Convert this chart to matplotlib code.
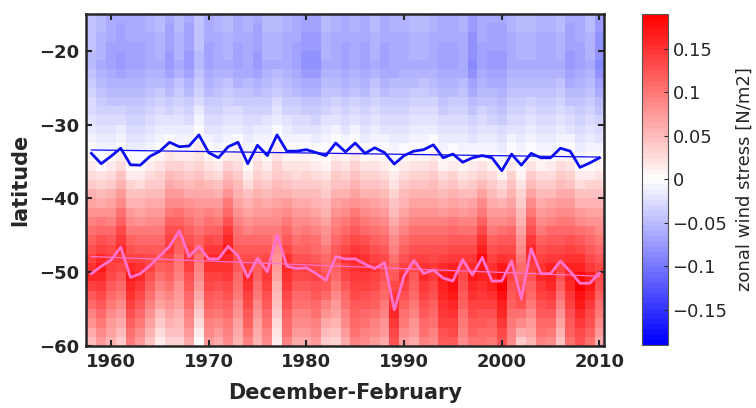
import numpy as np
import matplotlib
matplotlib.use("Agg")
import matplotlib.pyplot as plt

years = np.arange(1958, 2011)

# latitude of zero wind stress (blue line)
zero_lat = [-33.9, -35.3, -34.3, -33.2, -35.45, -35.5, -34.3, -33.6, -32.4, -33.0,
            -32.9, -31.4, -33.8, -34.5, -33.0, -32.4, -35.3, -32.8, -34.2, -31.4,
            -33.6, -33.6, -33.4, -33.8, -34.2, -32.5, -33.7, -32.5, -33.9, -33.15,
            -33.8, -35.35, -34.2, -33.6, -33.4, -32.75, -34.5, -34.0, -35.1, -34.5,
            -34.2, -34.5, -36.25, -34.0, -35.5, -33.9, -34.5, -34.5, -33.2, -33.6,
            -35.8, -35.2, -34.5]

# latitude of maximum wind stress (pink line)
max_lat = [-50.2, -49.2, -48.4, -46.6, -50.7, -50.2, -49.1, -47.8, -46.5, -44.4,
           -47.9, -46.5, -48.2, -48.2, -46.5, -47.8, -50.7, -48.1, -49.95, -44.9,
           -49.2, -49.5, -49.4, -50.2, -51.1, -47.9, -48.2, -48.2, -48.9, -49.5,
           -48.7, -55.1, -50.5, -48.4, -50.2, -49.7, -50.8, -51.2, -48.3, -50.4,
           -48.0, -51.2, -51.2, -48.5, -53.6, -46.8, -50.2, -50.2, -48.5, -49.9,
           -51.5, -51.5, -50.1]

# colour strengths read per year [N/m2]
peak_stress = [0.16, 0.17, 0.15, 0.16, 0.17, 0.16, 0.14, 0.13, 0.15, 0.13,
               0.15, 0.12, 0.16, 0.16, 0.17, 0.13, 0.16, 0.13, 0.15, 0.10,
               0.16, 0.14, 0.14, 0.14, 0.13, 0.13, 0.15, 0.16, 0.16, 0.15,
               0.14, 0.16, 0.15, 0.14, 0.16, 0.15, 0.17, 0.18, 0.15, 0.17,
               0.18, 0.17, 0.19, 0.15, 0.14, 0.16, 0.16, 0.17, 0.15, 0.17,
               0.19, 0.17, 0.14]
south_stress = [0.04, 0.07, 0.05, 0.03, 0.09, 0.07, 0.04, 0.01, 0.03, 0.03,
                0.06, 0.00, 0.07, 0.06, 0.08, 0.05, 0.09, 0.05, 0.08, 0.01,
                0.09, 0.06, 0.06, 0.07, 0.03, 0.03, 0.06, 0.09, 0.08, 0.07,
                0.06, 0.12, 0.07, 0.06, 0.09, 0.08, 0.12, 0.12, 0.08, 0.10,
                0.10, 0.09, 0.12, 0.08, 0.03, 0.05, 0.09, 0.08, 0.04, 0.10,
                0.12, 0.10, 0.06]
north_stress = [-0.05, -0.06, -0.07, -0.075, -0.07, -0.07, -0.065, -0.06, -0.075, -0.06,
                -0.075, -0.05, -0.07, -0.065, -0.06, -0.07, -0.065, -0.075, -0.06, -0.06,
                -0.065, -0.07, -0.08, -0.08, -0.06, -0.065, -0.07, -0.065, -0.07, -0.06,
                -0.07, -0.065, -0.065, -0.06, -0.06, -0.065, -0.07, -0.07, -0.065, -0.085,
                -0.07, -0.075, -0.075, -0.065, -0.06, -0.06, -0.065, -0.065, -0.06, -0.075,
                -0.07, -0.06, -0.085]

lat_edges = np.arange(-60, -14.9, 1.25)
lat_mid = 0.5 * (lat_edges[:-1] + lat_edges[1:])
year_edges = np.arange(1957.5, 2011, 1.0)

# build latitude profile of each year from the read values
field = np.zeros((len(lat_mid), len(years)))
for k in range(len(years)):
    anchor_lat = [-60, max_lat[k], zero_lat[k], -22, -15]
    anchor_val = [south_stress[k], peak_stress[k], 0.0, north_stress[k], 0.85 * north_stress[k]]
    field[:, k] = np.interp(lat_mid, anchor_lat, anchor_val)

txt = '#262626'
plt.rcParams['font.family'] = 'DejaVu Sans'
plt.rcParams['text.color'] = txt
plt.rcParams['axes.labelcolor'] = txt
plt.rcParams['xtick.color'] = txt
plt.rcParams['ytick.color'] = txt

fig = plt.figure(figsize=(7.56, 4.08), dpi=100)
ax = fig.add_axes([0.1138, 0.152, 0.685, 0.814])
cax = fig.add_axes([0.849, 0.155, 0.034, 0.811])

mesh = ax.pcolormesh(year_edges, lat_edges, field, cmap=plt.get_cmap('bwr', 64),
                     vmin=-0.19, vmax=0.19, shading='flat')

ax.plot(years, zero_lat, color=(0.05, 0.05, 0.95), lw=2.0)
fit = np.polyfit(years, zero_lat, 1)
ax.plot(years, np.polyval(fit, years), color=(0.05, 0.05, 0.95), lw=0.9)

pink = (1.0, 0.45, 0.8)
ax.plot(years, max_lat, color=pink, lw=2.0)
fit = np.polyfit(years, max_lat, 1)
ax.plot(years, np.polyval(fit, years), color=pink, lw=0.9)

ax.set_xlim(1957.45, 2010.45)
ax.set_ylim(-60, -15)
ax.set_xticks([1960, 1970, 1980, 1990, 2000, 2010])
ax.set_yticks([-20, -30, -40, -50, -60])
ax.tick_params(direction='in', length=4, width=1.5, top=True, right=True, labelsize=13, pad=5)
for lab in ax.get_xticklabels() + ax.get_yticklabels():
    lab.set_fontweight('bold')
for sp in ax.spines.values():
    sp.set_linewidth(1.8)
    sp.set_color(txt)
ax.set_xlabel('December-February', fontsize=15, fontweight='bold', labelpad=9)
ax.set_ylabel('latitude', fontsize=15, fontweight='bold', labelpad=6)

cb = fig.colorbar(mesh, cax=cax)
cb.set_ticks([-0.15, -0.1, -0.05, 0, 0.05, 0.1, 0.15])
cb.set_ticklabels(['\u22120.15', '\u22120.1', '\u22120.05', '0', '0.05', '0.1', '0.15'])
cb.ax.tick_params(direction='in', length=3, width=0.8, labelsize=13)
cb.outline.set_linewidth(0.8)
cb.outline.set_edgecolor('#555555')
cb.set_label('zonal wind stress [N/m2]', fontsize=13, labelpad=6)

fig.savefig('out.png', dpi=100)
